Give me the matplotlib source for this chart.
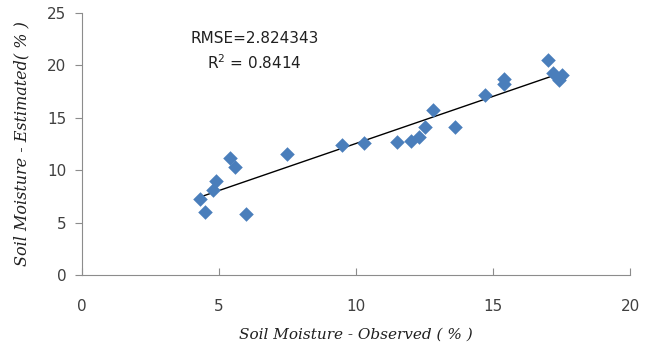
import matplotlib
matplotlib.use("Agg")
import matplotlib.pyplot as plt
import numpy as np

observed = [4.3, 4.5, 4.8, 4.9, 5.4, 5.6, 6.0, 7.5, 9.5, 10.3, 11.5, 12.0, 12.3, 12.5,
            12.8, 13.6, 14.7, 15.4, 15.4, 17.0, 17.2, 17.4, 17.5]
estimated = [7.2, 6.0, 8.1, 9.0, 11.2, 10.3, 5.8, 11.5, 12.4, 12.6, 12.7, 12.8, 13.2, 14.1,
             15.7, 14.1, 17.2, 18.2, 18.7, 20.5, 19.3, 18.6, 19.1]
x_ticks = [0, 5, 10, 15, 20]
y_ticks = [0, 5, 10, 15, 20, 25]
annotation = "RMSE=2.824343\nR$^2$ = 0.8414"

fig = plt.figure(figsize=(6.55, 3.48), dpi=100)
ax = fig.add_axes([0.125, 0.21, 0.837, 0.753])

ax.scatter(observed, estimated, marker="D", s=55, color="#4a7ebb", zorder=3, linewidths=0)

coef = np.polyfit(observed, estimated, 1)
xs = np.array([min(observed), max(observed)])
ax.plot(xs, np.polyval(coef, xs), color="black", lw=1.0, zorder=2)

ax.set_xlim(0, 20)
ax.set_ylim(0, 25)
ax.set_xticks(x_ticks)
ax.set_yticks(y_ticks)
for s in ["top", "right"]:
    ax.spines[s].set_visible(False)
for s in ["left", "bottom"]:
    ax.spines[s].set_color("#8c8c8c")
ax.tick_params(axis="y", direction="out", length=5, color="#8c8c8c", labelsize=11,
               pad=6, labelcolor="#404040")
ax.tick_params(axis="x", direction="in", length=5, color="#8c8c8c", labelsize=11,
               pad=17, labelcolor="#404040")

ax.set_xlabel("Soil Moisture - Observed ( % )", fontsize=11, family="DejaVu Serif",
              style="italic", labelpad=10, color="#202020")
ax.set_ylabel("Soil Moisture - Estimated( % )", fontsize=11.5, family="DejaVu Serif",
              style="italic", labelpad=12, color="#202020")

ax.text(6.3, 21.3, annotation, fontsize=11, ha="center", va="center", linespacing=1.5,
        color="#202020")

fig.savefig("out.png", dpi=100)
